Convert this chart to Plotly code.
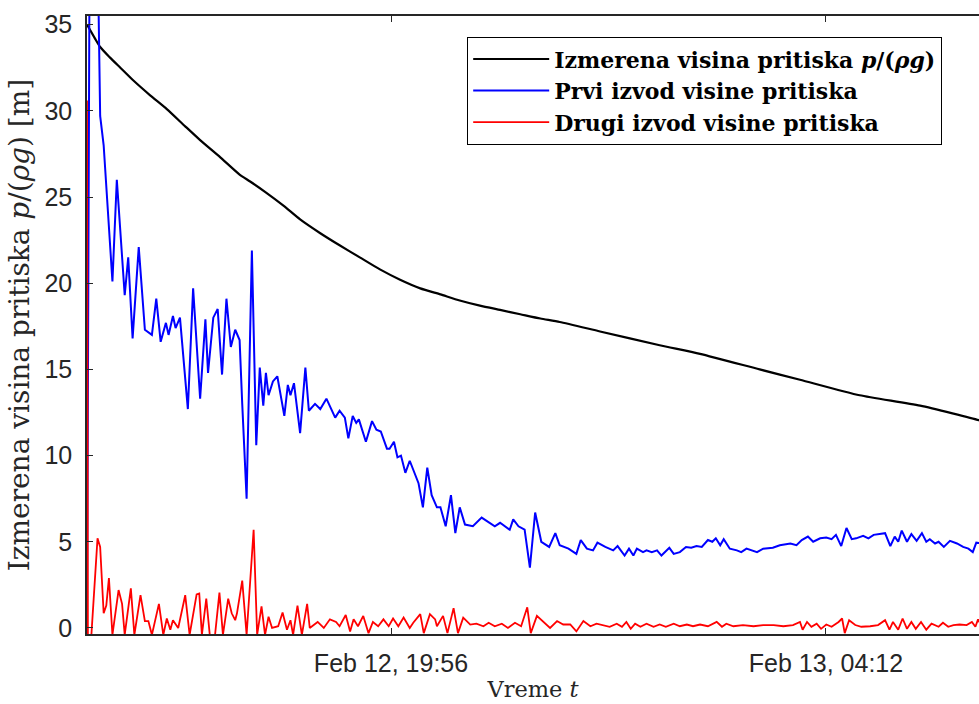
import pandas as pd
import plotly.graph_objects as go

# Start of the record and the visible time window (minutes)
START = pd.Timestamp("2020-02-12 14:09:22")
WINDOW_MIN = 1017.1

# Measured pressure head p/(rho g) [m]
head_min = [0, 9, 15, 26, 38, 52, 72, 91, 112, 129, 152, 174, 186, 203, 224, 243,
            266, 288, 311, 334, 357, 380, 403, 425, 448, 471, 494, 517, 539, 585,
            653, 699, 767, 813, 881, 950, 1017, 1020]
head_val = [35.0, 34.2, 33.7, 33.1, 32.5, 31.8, 30.9, 30.1, 29.1, 28.3, 27.3, 26.3,
            25.9, 25.3, 24.5, 23.7, 22.9, 22.2, 21.5, 20.8, 20.2, 19.7, 19.35, 19.0,
            18.7, 18.45, 18.2, 17.95, 17.75, 17.2, 16.4, 15.9, 15.0, 14.4, 13.5,
            12.9, 12.05, 12.0]

# First derivative of the pressure head
d1_min = [0, 3, 12, 15, 19, 24, 29, 34, 39, 43, 47, 52, 59, 66, 74, 79, 84, 90, 93,
          98, 101, 106, 115, 121, 129, 135, 138, 144, 149, 154, 159, 164, 169, 174,
          177, 182, 188, 193, 197, 201, 204, 207, 212, 217, 225, 229, 232, 236, 243,
          249, 253, 260, 266, 273, 283, 288, 294, 298, 303, 307, 310, 318, 325, 330,
          335, 342, 345, 350, 354, 358, 363, 368, 378, 383, 388, 393, 399, 403, 409,
          415, 420, 425, 431, 440, 450, 459, 465, 471, 477, 482, 486, 492, 499, 505,
          511, 518, 527, 534, 539, 549, 558, 563, 570, 577, 582, 591, 600, 605, 613,
          618, 623, 627, 634, 638, 644, 650, 655, 664, 669, 676, 683, 689, 695, 701,
          708, 713, 717, 722, 726, 733, 741, 746, 752, 757, 764, 771, 782, 790, 802,
          809, 815, 822, 828, 836, 843, 849, 854, 860, 866, 872, 877, 885, 891, 897,
          902, 910, 916, 921, 925, 929, 935, 940, 946, 952, 957, 961, 967, 971, 977,
          984, 992, 999, 1005, 1010, 1014, 1020]
d1_val = [0.0, 40.0, 40.0, 29.7, 28.0, 24.0, 20.1, 26.0, 22.0, 19.3, 21.5, 16.8,
          22.1, 17.3, 17.0, 19.1, 16.6, 17.7, 17.0, 18.1, 17.4, 18.0, 12.7, 19.7,
          13.3, 17.9, 14.8, 18.0, 18.5, 14.7, 19.1, 16.3, 17.3, 16.7, 13.0, 7.5,
          21.9, 10.6, 15.1, 12.9, 14.8, 13.5, 14.3, 14.6, 12.3, 14.1, 13.5, 14.2,
          11.3, 15.1, 12.6, 13.0, 12.7, 13.3, 12.2, 12.6, 12.2, 11.0, 12.3, 11.9,
          12.1, 10.8, 12.0, 11.5, 11.4, 10.4, 10.4, 10.8, 9.9, 10.0, 9.0, 9.7, 8.4,
          7.0, 9.3, 7.7, 7.0, 7.0, 5.9, 7.7, 5.5, 7.0, 6.0, 5.9, 6.4, 6.1, 5.9, 6.1,
          5.9, 5.7, 6.3, 5.9, 5.7, 3.5, 6.7, 5.0, 4.7, 5.5, 4.8, 4.6, 4.3, 5.1, 4.6,
          4.5, 4.95, 4.7, 4.5, 4.75, 4.2, 4.6, 4.2, 4.6, 4.4, 4.5, 4.4, 4.5, 4.2,
          4.65, 4.3, 4.4, 4.7, 4.65, 4.75, 4.7, 5.1, 5.0, 5.2, 4.8, 5.15, 4.6, 4.5,
          4.4, 4.6, 4.5, 4.4, 4.6, 4.65, 4.8, 4.9, 4.8, 5.1, 5.3, 5.0, 5.2, 5.25,
          5.15, 5.4, 4.75, 5.8, 5.15, 5.2, 5.35, 5.2, 5.4, 5.45, 5.5, 4.75, 5.3, 5.0,
          5.65, 5.0, 5.45, 5.05, 5.5, 5.0, 5.15, 4.9, 5.0, 4.7, 5.05, 4.9, 4.7, 4.6,
          4.4, 4.95, 4.9]

# Second derivative of the pressure head
d2_min = [0, 1, 5, 9, 12, 15, 19, 22, 25, 29, 36, 40, 43, 50, 54, 61, 66, 70, 74, 82,
          87, 91, 95, 98, 104, 112, 117, 125, 128, 131, 136, 140, 146, 151, 155, 161,
          165, 169, 171, 177, 182, 190, 194, 199, 203, 207, 211, 218, 223, 228, 232,
          235, 240, 245, 251, 254, 263, 270, 277, 284, 288, 295, 300, 304, 309, 315,
          321, 326, 332, 338, 344, 349, 355, 361, 368, 372, 380, 384, 391, 397, 399,
          406, 411, 418, 423, 429, 437, 444, 452, 458, 465, 473, 480, 488, 495, 502,
          506, 513, 520, 528, 536, 543, 551, 558, 566, 574, 581, 589, 596, 604, 610,
          615, 620, 625, 631, 638, 646, 653, 660, 669, 676, 684, 691, 699, 708, 718,
          724, 729, 737, 748, 760, 771, 783, 794, 805, 813, 816, 821, 826, 832, 837,
          843, 849, 857, 861, 864, 869, 876, 883, 893, 902, 910, 915, 919, 925, 930,
          935, 940, 945, 951, 957, 963, 971, 976, 982, 988, 995, 1003, 1009, 1013,
          1016, 1020]
d2_val = [30.6, -0.4, -0.4, 3.1, 5.2, 4.7, 0.85, 1.3, 2.9, -0.4, 2.2, 1.4, -0.4, 2.3,
          -0.4, 1.9, 0.4, 0.4, -0.4, 1.4, -0.4, 0.55, -0.1, 0.45, 0.0, 1.9, -0.4,
          1.95, 2.0, -0.4, 1.7, -0.4, -0.4, 2.05, -0.4, 1.7, 0.85, 0.45, 0.85, 2.75,
          -0.4, 5.7, -0.4, 1.25, -0.4, 0.65, 0.0, 0.1, 0.9, -0.1, 0.45, -0.4, 1.3,
          -0.4, 1.4, 0.0, 0.35, 0.0, 0.5, 0.35, 0.1, 0.75, -0.2, 0.5, 0.1, 0.7, -0.3,
          0.35, 0.1, 0.5, 0.1, 0.55, 0.1, 0.6, 0.0, 0.3, 0.8, -0.3, 0.8, 0.5, 0.1,
          0.7, -0.3, 1.15, -0.3, 0.6, 0.2, 0.25, 0.1, 0.3, 0.1, 0.25, 0.0, 0.3, 0.1,
          1.2, -0.3, 0.7, 0.35, 0.0, 0.4, 0.2, 0.2, -0.2, 0.4, 0.1, 0.25, 0.17, 0.07,
          0.25, 0.07, 0.35, -0.05, 0.25, 0.07, 0.25, 0.07, 0.2, 0.07, 0.25, 0.1, 0.2,
          0.1, 0.2, 0.1, 0.35, 0.07, 0.25, 0.1, 0.17, 0.1, 0.17, 0.17, 0.1, 0.17,
          0.35, -0.1, 0.35, 0.07, 0.25, -0.05, 0.2, 0.07, 0.35, 0.55, -0.3, 0.45,
          0.17, 0.07, 0.1, 0.17, 0.45, -0.1, 0.35, -0.1, 0.55, -0.05, 0.35, -0.05,
          0.35, -0.1, 0.25, 0.07, 0.3, 0.07, 0.17, 0.2, 0.17, 0.35, 0.07, 0.5, 0.1]

# Axis ticks
y_ticks = [0, 5, 10, 15, 20, 25, 30, 35]
x_ticks = ["2020-02-12 19:56", "2020-02-13 04:12"]

series_names = [
    "Izmerena visina pritiska <i>p</i>/(<i>ρg</i>)",
    "Prvi izvod visine pritiska",
    "Drugi izvod visine pritiska",
]


def to_time(minutes):
    return START + pd.to_timedelta(minutes, unit="min")


AXIS = "#262626"

fig = go.Figure()
fig.add_trace(go.Scatter(x=to_time(head_min), y=head_val, mode="lines",
                         line=dict(color="black", width=2.2, shape="spline",
                                   smoothing=0.6),
                         name=series_names[0]))
fig.add_trace(go.Scatter(x=to_time(d1_min), y=d1_val, mode="lines",
                         line=dict(color="#0000FF", width=2), name=series_names[1]))
fig.add_trace(go.Scatter(x=to_time(d2_min), y=d2_val, mode="lines",
                         line=dict(color="#FF0000", width=1.8), name=series_names[2]))

fig.update_layout(
    width=979, height=704,
    margin=dict(l=87, r=0, t=16, b=70),
    paper_bgcolor="white", plot_bgcolor="white",
    showlegend=True,
    legend=dict(
        x=0.426, y=0.966, xanchor="left", yanchor="top",
        bgcolor="white", bordercolor="black", borderwidth=1.2,
        font=dict(family="DejaVu Serif", size=22, color="black", weight="bold"),
        tracegroupgap=0, itemwidth=76,
    ),
    xaxis=dict(
        type="date",
        range=[START, to_time(WINDOW_MIN)],
        tickvals=x_ticks, tickformat="%b %d, %H:%M",
        ticks="inside", ticklen=6, tickcolor=AXIS,
        showline=True, linecolor=AXIS, linewidth=1.5, mirror="ticks",
        showgrid=False, zeroline=False,
        tickfont=dict(family="Liberation Sans", size=25, color=AXIS),
        ticklabelstandoff=6,
        title=dict(text="Vreme <i>t</i>",
                   font=dict(family="DejaVu Serif", size=22.5, color=AXIS),
                   standoff=5),
    ),
    yaxis=dict(
        range=[-0.35, 35.5],
        tickvals=y_ticks,
        ticks="inside", ticklen=6, tickcolor=AXIS,
        showline=True, linecolor=AXIS, linewidth=1.5, mirror=False,
        showgrid=False, zeroline=False,
        tickfont=dict(family="Liberation Sans", size=25, color=AXIS),
        ticklabelstandoff=8,
        title=dict(text="Izmerena visina pritiska <i>p</i>/(<i>ρg</i>) [m]",
                   font=dict(family="DejaVu Serif", size=28, color=AXIS),
                   standoff=7),
    ),
)

fig.write_html("out.html")
